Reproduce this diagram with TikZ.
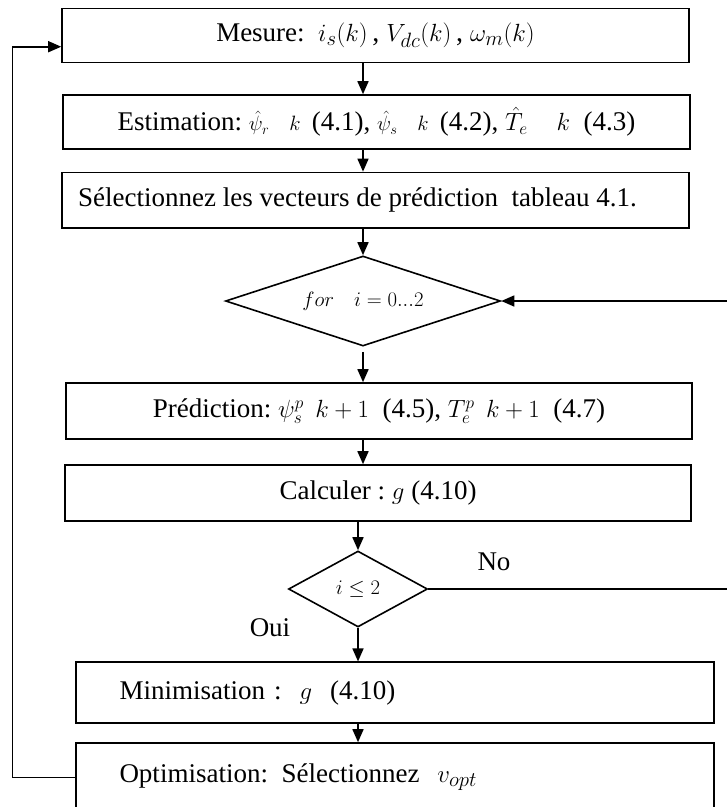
\documentclass[tikz,border=0pt]{standalone}
\usepackage{fontspec}
\setmainfont{Liberation Serif}
\usetikzlibrary{shapes.geometric,arrows.meta}
\newcommand\smm[1]{{\fontsize{20}{22}\selectfont #1}}
\newcommand\mdm[1]{{\fontsize{23}{25}\selectfont #1}}
\newcommand\lgm[1]{{\fontsize{31}{33}\selectfont #1}}
\tikzset{
  box/.style={draw, line width=1.6pt, rectangle, inner sep=0pt, font=\fontsize{27}{30}\selectfont},
  dia/.style={draw, line width=1.6pt, diamond, inner sep=0pt},
  arr/.style={line width=1.6pt, -{Triangle[length=13pt,width=11pt]}},
  ln/.style={line width=1.6pt},
  lbl/.style={font=\fontsize{27}{30}\selectfont, inner sep=0pt}
}
\begin{document}
\begin{tikzpicture}[x=1pt,y=-1pt]
\fill[white] (0,0) rectangle (727,807);
\useasboundingbox (0,0) rectangle (727,807);
\node[box, minimum width=627pt, minimum height=54pt] (b1) at (375.5,35.4)
  {Mesure:\ \ {\fontsize{28}{30}\selectfont$i_{s}(k)$\,, $V_{dc}(k)$\,, $\omega_{m}(k)$}};
\node[box, minimum width=627pt, minimum height=54pt] (b2) at (376.5,122)
  {Estimation:\ \smm{$\hat{\psi}_{r}\quad k$}\ \,(4.1),\ \smm{$\hat{\psi}_{s}\quad k$}\ \,(4.2),\ \mdm{$\hat{T}_{e}\quad\ k$}\ \ (4.3)};
\node[box, minimum width=627pt, minimum height=55.5pt] (b3) at (375.5,200.2)
  {Sélectionnez les vecteurs de prédiction\ \ tableau 4.1.\hspace*{36pt}};
\node[dia, minimum width=275pt, minimum height=90pt, aspect=3.05] (d1) at (363,301)
  {{\fontsize{20}{22}\selectfont $for\quad i=0...2$}};
\node[box, minimum width=626pt, minimum height=56pt] (p) at (379,411)
  {Prédiction:\ \mdm{$\psi_{s}^{p}\ \ k+1$}\ \ (4.5),\ \mdm{$T_{e}^{p}\ \ k+1$}\ \ (4.7)};
\node[box, minimum width=626pt, minimum height=56pt] (c) at (378,493)
  {Calculer :\ \mdm{$g$} (4.10)};
\node[dia, minimum width=139pt, minimum height=76pt, aspect=1.83] (d2) at (358,589)
  {{\fontsize{21}{23}\selectfont $i\leq 2$}};
\node[box, minimum height=60.5pt, text width=551pt, inner xsep=43.5pt, align=left] (m) at (395,692.5)
  {Minimisation :\ \ \lgm{$g$}\ \ (4.10)};
\node[box, minimum height=69pt, text width=551pt, inner xsep=43.5pt, align=left] (o) at (395,777.5)
  {Optimisation: Sélectionnez\ \ \lgm{$v_{opt}$}};
\node[lbl] (no) at (494,562) {No};
\node[lbl] (oui) at (270,628) {Oui};
\coordinate (rt) at (727,301);
\coordinate (rb) at (727,589);
\coordinate (lt) at (12.3,46.7);
\coordinate (lb) at (12.3,777.5);
\draw[arr] (b1.south -| d1.north) -- (b2.north -| d1.north);
\draw[arr] (b2.south -| d1.north) -- (b3.north -| d1.north);
\draw[arr] (b3.south -| d1.north) -- (d1.north);
\draw[arr, shorten <=5pt] (d1.south) -- (p.north -| d1.south);
\draw[arr] (p.south -| d1.south) -- (c.north -| d1.south);
\draw[arr] (c.south -| d2.north) -- (d2.north);
\draw[arr] (d2.south) -- (m.north -| d2.south);
\draw[arr] (m.south -| d2.south) -- (o.north -| d2.south);
\draw[arr] (rt) -- (d1.east);
\draw[ln] (d2.east) -- (rb);
\draw[arr] (o.west) -- (lb) -- (lt) -- (b1.west |- lt);
\end{tikzpicture}
\end{document}
